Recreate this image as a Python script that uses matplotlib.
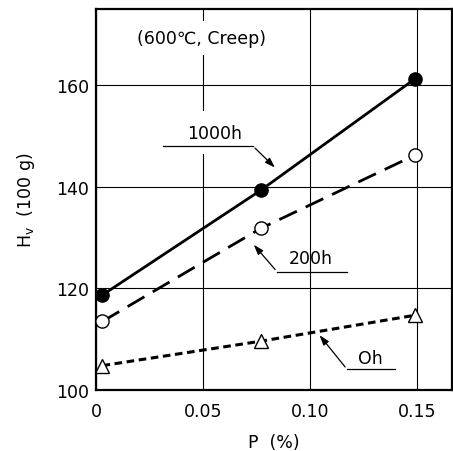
import matplotlib.pyplot as plt

p_pct = [0.003, 0.077, 0.149]
hv_1000h = [118.7, 139.3, 161.2]
hv_200h = [113.5, 131.8, 146.2]
hv_0h = [104.8, 109.6, 114.7]

x_ticks = [0, 0.05, 0.10, 0.15]
x_ticklabels = ["0", "0.05", "0.10", "0.15"]
y_ticks = [100, 120, 140, 160]

fig = plt.figure(figsize=(4.53, 4.52), dpi=100)
ax = fig.add_axes([0.212, 0.135, 0.786, 0.843])

ax.set_xlim(0, 0.1665)
ax.set_ylim(100, 175)
ax.grid(True, color="black", linewidth=0.8)
ax.set_axisbelow(True)
for s in ax.spines.values():
    s.set_linewidth(1.6)

ax.plot(p_pct, hv_1000h, color="black", lw=2.0, marker="o", ms=9.5,
        mfc="black", mec="black", clip_on=False, zorder=3)
ax.plot(p_pct, hv_200h, color="black", lw=2.0, dashes=(7, 3.5), marker="o", ms=9.5,
        mfc="white", mec="black", mew=1.0, clip_on=False, zorder=3)
ax.plot(p_pct, hv_0h, color="black", lw=2.2, dashes=(2.5, 1.5), marker="^", ms=9.5,
        mfc="white", mec="black", mew=1.0, clip_on=False, zorder=3)

ax.set_xticks(x_ticks)
ax.set_xticklabels(x_ticklabels)
ax.set_yticks(y_ticks)
ax.tick_params(axis="x", length=0, labelsize=12.5, pad=9)
ax.tick_params(axis="y", length=0, labelsize=12.5, pad=5)

ax.set_xlabel("P  (%)", fontsize=12.5, labelpad=9)
ax.set_ylabel(r"H$_\mathrm{v}$  (100 g)", fontsize=12.5, labelpad=14)

ax.text(0.0495, 169.3, "(600℃, Creep)", fontsize=12.5, ha="center", va="center",
        bbox=dict(facecolor="white", edgecolor="none", pad=6), zorder=4)

# labels with leader lines
arrow = dict(arrowstyle="-|>,head_length=0.6,head_width=0.2", color="black", lw=0.9)
ax.text(0.0556, 150.6, "1000h", fontsize=12.5, ha="center", va="center",
        bbox=dict(facecolor="white", edgecolor="none", pad=9), zorder=2.1)
ax.plot([0.0313, 0.0734], [148.0, 148.0], color="black", lw=0.9, zorder=5)
ax.annotate("", xy=(0.0846, 143.4), xytext=(0.0734, 148.0), arrowprops=arrow, zorder=5)

ax.text(0.1005, 125.9, "200h", fontsize=12.5, ha="center", va="center")
ax.plot([0.0846, 0.1173], [123.3, 123.3], color="black", lw=0.9)
ax.annotate("", xy=(0.0729, 129.0), xytext=(0.0846, 123.3), arrowprops=arrow)

ax.text(0.1285, 106.3, "Oh", fontsize=12.5, ha="center", va="center")
ax.plot([0.1173, 0.1397], [104.1, 104.1], color="black", lw=0.9)
ax.annotate("", xy=(0.1037, 111.2), xytext=(0.1173, 104.1), arrowprops=arrow)

fig.savefig("out.png", dpi=100)
